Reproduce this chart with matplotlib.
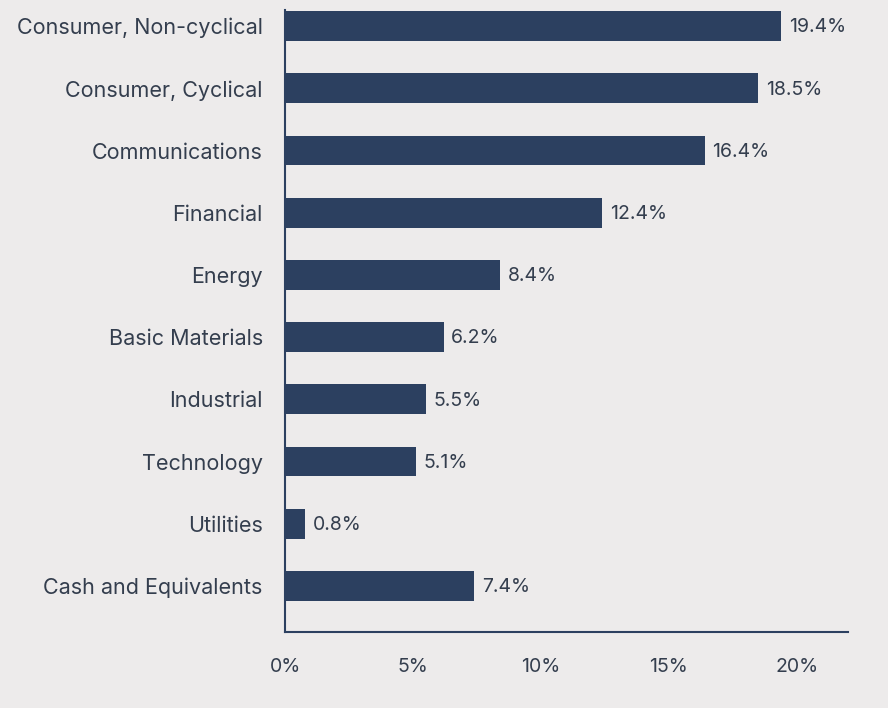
import matplotlib
matplotlib.use("Agg")
import matplotlib.pyplot as plt

categories = ["Consumer, Non-cyclical", "Consumer, Cyclical", "Communications",
              "Financial", "Energy", "Basic Materials", "Industrial",
              "Technology", "Utilities", "Cash and Equivalents"]
values = [19.4, 18.5, 16.4, 12.4, 8.4, 6.2, 5.5, 5.1, 0.8, 7.4]
xticks = [0, 5, 10, 15, 20]
xtick_labels = ["0%", "5%", "10%", "15%", "20%"]

bg = "#EDEBEB"
bar_color = "#2C4060"
text_color = "#343E4E"

plt.rcParams['font.family'] = ['Inter', 'DejaVu Sans']

fig = plt.figure(figsize=(8.88, 7.08), dpi=100, facecolor=bg)
ax = fig.add_axes([285/888, 76/708, (848-285)/888, (632-10)/708])
ax.set_facecolor(bg)

ypos = list(range(len(categories)))
ax.barh(ypos, values, height=0.48, color=bar_color)
for y, v in zip(ypos, values):
    ax.text(v + 0.3, y + 0.02, f"{v:.1f}%", va="center", ha="left",
            fontsize=14, color=text_color)

ax.set_xlim(0, 22)
ax.set_ylim(9.74, -0.26)
ax.set_yticks(ypos)
ax.set_yticklabels(categories, fontsize=15.5, color=text_color)
ax.set_xticks(xticks)
ax.set_xticklabels(xtick_labels, fontsize=14, color=text_color)
ax.tick_params(axis="both", length=0)
ax.tick_params(axis="y", pad=16)
ax.tick_params(axis="x", pad=19)
for s in ["top", "right"]:
    ax.spines[s].set_visible(False)
for s in ["left", "bottom"]:
    ax.spines[s].set_color(bar_color)
    ax.spines[s].set_linewidth(1.5)

fig.savefig("out.png", dpi=100, facecolor=bg)
